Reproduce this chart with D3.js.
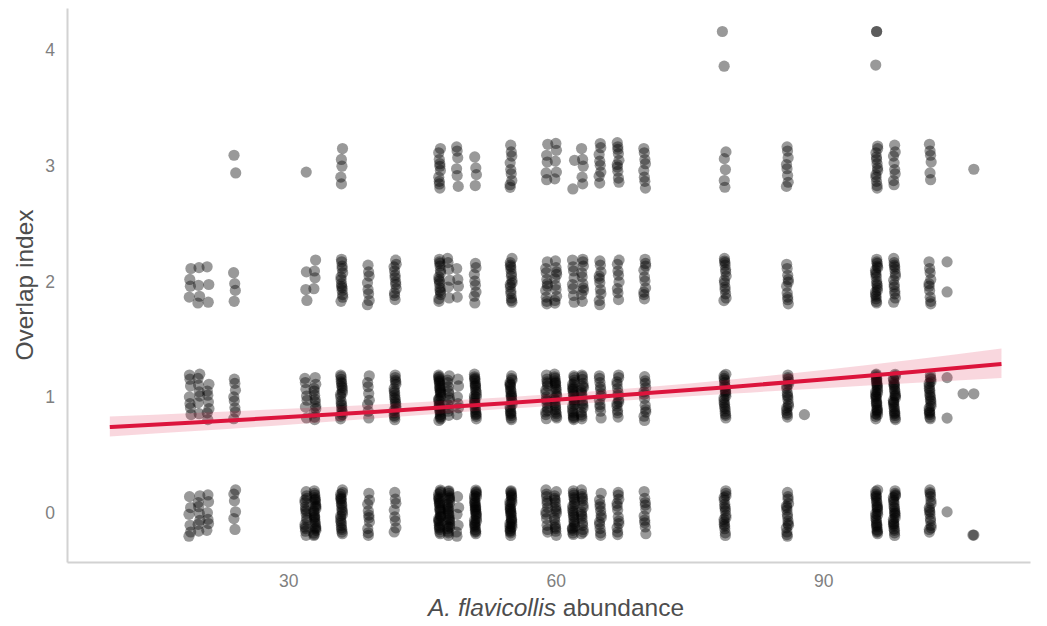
<!DOCTYPE html>
<html>
<head>
<meta charset="utf-8">
<script src="https://cdn.jsdelivr.net/npm/d3@7"></script>
<style>
  body { margin: 0; background: #fff; }
  svg { display: block; font-family: "Liberation Sans", Arial, sans-serif; }
  .tick text { fill: #7f7f7f; font-size: 17.5px; }
  .domain { stroke: #d2d2d2; stroke-width: 2; }
  .axis-title { fill: #4d4d4d; font-size: 24.5px; }
</style>
</head>
<body>
<div class="chart"></div>
<script>
// abundance values (x) and number of observations at each overlap index level
const abundance = [19, 20, 21, 24, 32, 33, 36, 39, 42, 47, 48, 49, 51, 55, 59, 60, 62, 63, 65, 67, 70, 79, 86, 96, 98, 102];
const countOverlap0 = [6, 7, 6, 6, 16, 26, 22, 10, 8, 28, 26, 6, 30, 30, 12, 16, 22, 16, 12, 12, 10, 18, 16, 26, 24, 16];
const countOverlap1 = [7, 7, 7, 8, 7, 12, 20, 8, 20, 30, 12, 6, 26, 24, 16, 22, 24, 18, 12, 14, 12, 22, 18, 30, 26, 22];
const countOverlap2 = [4, 4, 3, 4, 3, 4, 14, 8, 12, 16, 6, 4, 8, 16, 10, 10, 8, 10, 10, 8, 10, 14, 10, 20, 14, 10];
const countOverlap3 = [0, 0, 0, 2, 1, 0, 5, 0, 0, 10, 0, 6, 4, 9, 5, 5, 2, 5, 8, 10, 8, 5, 8, 13, 8, 6];
const overlapCounts = [countOverlap0, countOverlap1, countOverlap2, countOverlap3];

// isolated points (already jittered in the picture)
const strayX = [87.9, 103.9, 103.9, 105.7, 106.9, 103.9, 106.8, 106.9, 103.9, 103.9, 106.9, 78.7, 78.9, 96.0, 96.0, 95.9];
const strayY = [0.85, 1.17, 0.82, 1.03, 1.03, 0.01, -0.19, -0.19, 2.17, 1.91, 2.97, 4.16, 3.86, 4.16, 4.16, 3.87];

// poisson fit with 95% band
const fitX = [10, 20, 30, 40, 50, 60, 70, 80, 90, 100, 110];
const fitY = [0.743, 0.785, 0.829, 0.876, 0.926, 0.978, 1.034, 1.092, 1.154, 1.219, 1.288];
const fitLo = [0.662, 0.711, 0.763, 0.818, 0.875, 0.930, 0.983, 1.032, 1.078, 1.123, 1.167];
const fitHi = [0.834, 0.866, 0.901, 0.938, 0.980, 1.028, 1.087, 1.156, 1.236, 1.324, 1.422];

const xTicks = [30, 60, 90];
const yTicks = [0, 1, 2, 3, 4];

const width = 1047;
const height = 626;

const svg = d3.select(".chart").append("svg")
    .attr("width", width)
    .attr("height", height);

const x = d3.scaleLinear().domain([5.2, 113.2]).range([67, 1030]);
const y = d3.scaleLinear().domain([-0.423, 4.363]).range([562, 8]);

// spread the points of each cell like geom_jitter (fixed sequence, no randomness)
let points = [];
abundance.forEach((a, j) => {
    overlapCounts.forEach((counts, k) => {
        const n = counts[j];
        const s1 = ((j * 7 + k * 3) % 11) / 11;
        const s2 = ((j * 5 + k * 9) % 13) / 13;
        for (let i = 0; i < n; i++) {
            const fy = (s1 + i * 0.618034) % 1;
            const fx = (s2 + i * 0.7548777) % 1;
            points.push({ x: a + (fx - 0.5) * 0.25, y: k + (fy - 0.5) * 0.4 });
        }
    });
});
strayX.forEach((v, i) => points.push({ x: v, y: strayY[i] }));

svg.append("g")
    .selectAll("circle")
    .data(points)
    .join("circle")
    .attr("cx", d => x(d.x))
    .attr("cy", d => y(d.y))
    .attr("r", 5.6)
    .style("fill", "#000")
    .style("fill-opacity", 0.4);

const fit = fitX.map((v, i) => ({ x: v, y: fitY[i], lo: fitLo[i], hi: fitHi[i] }));

svg.append("path")
    .datum(fit)
    .attr("d", d3.area().x(d => x(d.x)).y0(d => y(d.lo)).y1(d => y(d.hi)).curve(d3.curveMonotoneX))
    .style("fill", "#dc143c")
    .style("fill-opacity", 0.17);

svg.append("path")
    .datum(fit)
    .attr("d", d3.line().x(d => x(d.x)).y(d => y(d.y)).curve(d3.curveMonotoneX))
    .style("fill", "none")
    .style("stroke", "#dc143c")
    .style("stroke-width", 4);

// axes
svg.append("g")
    .attr("transform", "translate(0,562)")
    .call(d3.axisBottom(x).tickValues(xTicks).tickSizeInner(0).tickSizeOuter(0).tickPadding(13))
    .call(g => g.selectAll(".tick text").attr("dy", "0.71em"));

svg.append("g")
    .attr("transform", "translate(67,0)")
    .call(d3.axisLeft(y).tickValues(yTicks).tickFormat(d3.format("d")).tickSizeInner(0).tickSizeOuter(0).tickPadding(12));

svg.selectAll(".tick line").remove();
svg.selectAll("g text").style("font-family", "'Liberation Sans', Arial, sans-serif");

const xTitle = svg.append("text")
    .attr("class", "axis-title")
    .attr("x", 556)
    .attr("y", 616)
    .attr("text-anchor", "middle");
xTitle.append("tspan").style("font-style", "italic").text("A. flavicollis");
xTitle.append("tspan").text(" abundance");

svg.append("text")
    .attr("class", "axis-title")
    .attr("transform", "translate(33,285) rotate(-90)")
    .attr("text-anchor", "middle")
    .text("Overlap index");
</script>
</body>
</html>
